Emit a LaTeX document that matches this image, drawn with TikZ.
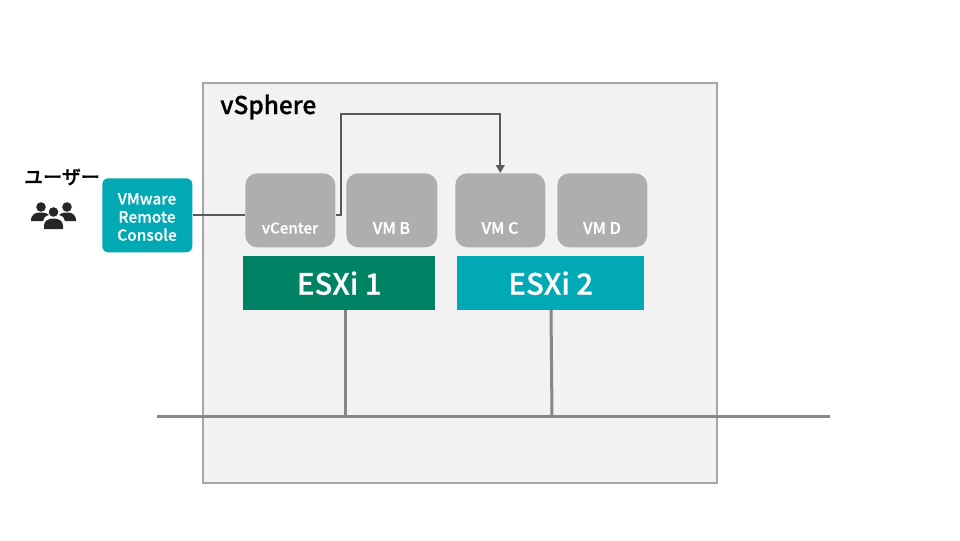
\documentclass[tikz,border=0pt]{standalone}
\usepackage{fontspec}
\setmainfont{Noto Sans CJK JP}[BoldFont={Noto Sans CJK JP Medium},BoldFeatures={FakeBold=0.6}]
\usetikzlibrary{arrows.meta}
\definecolor{panel}{HTML}{F2F2F2}
\definecolor{panelline}{HTML}{A6A6A6}
\definecolor{teal}{HTML}{00A9B3}
\definecolor{esxgreen}{HTML}{008265}
\definecolor{vmgray}{HTML}{AEAEAE}
\definecolor{wire}{HTML}{595959}
\definecolor{net}{HTML}{878787}
\definecolor{ink}{HTML}{262626}
\tikzset{
  x=0.75pt,y=-0.75pt,
  vmbox/.style={fill=vmgray,draw=none,rounded corners=9pt,minimum width=67.5pt,minimum height=55.5pt,inner sep=0pt,anchor=north west},
  vmtext/.style={text=white,font=\fontsize{12.1pt}{14pt}\selectfont\bfseries,inner sep=0pt},
  esxbox/.style={draw=none,minimum height=40.5pt,inner sep=0pt,anchor=north west,text=white,font=\fontsize{22pt}{24pt}\selectfont\bfseries},
  wireline/.style={draw=wire,line width=1.5pt},
  netline/.style={draw=net,line width=2.25pt},
}
\begin{document}
\begin{tikzpicture}
\useasboundingbox (0,0) rectangle (960,540);
\fill[white] (0,0) rectangle (960,540);
\node[draw=panelline,fill=panel,line width=1.5pt,minimum width=385.5pt,minimum height=300pt,inner sep=0pt,anchor=north west] (vsphere) at (202,82) {};
\node[anchor=west,inner sep=0pt,font=\fontsize{18.3pt}{20pt}\selectfont\bfseries] (vsphereT) at (220,107) {vSphere};

\coordinate (netL) at (157,416);
\coordinate (netR) at (830,416);
\coordinate (net1) at (345,416);
\coordinate (net2) at (552,416);

\node[vmbox] (vcenter) at (245,173) {};
\node[vmbox,minimum width=68.25pt] (vmb) at (346,173) {};
\node[vmbox] (vmc) at (455,173) {};
\node[vmbox] (vmd) at (557,173) {};
\node[vmtext,font=\fontsize{11.3pt}{13pt}\selectfont\bfseries] (vcenterT) at (290,228) {vCenter};
\node[vmtext] (vmbT) at (391.5,228) {VM B};
\node[vmtext] (vmcT) at (500,228) {VM C};
\node[vmtext] (vmdT) at (602,228) {VM D};

\node[esxbox,fill=esxgreen,minimum width=144pt] (esx1) at (243,256) {ESXi 1};
\node[esxbox,fill=teal,minimum width=140.25pt] (esx2) at (457,256) {ESXi 2};

\node[fill=teal,rounded corners=4.5pt,minimum width=67.5pt,minimum height=55.5pt,inner sep=0pt,anchor=north west] (console) at (102,178) {};
\node[inner sep=0pt,text=white,align=center,font=\fontsize{11.6pt}{13.6pt}\selectfont\bfseries] (consoleT) at (147,217) {VMware\\Remote\\Console};

\node[inner sep=0pt,font=\fontsize{14.3pt}{16pt}\selectfont\bfseries] (user) at (62,177) {ユーザー};

% connectors
\draw[wireline] (console.east |- 0,215) -- (vcenter.west |- 0,215);
\draw[wireline,-{Triangle[length=6pt,width=6.5pt]}] (vcenter.east |- 0,215) -- (341,215) -- (341,114) -- (vmc.north |- 0,114) -- (vmc.north);
\draw[netline] (netL) -- (netR);
\draw[netline] (345,310) -- (net1);
\draw[netline] (551,310) -- (net2);

% people icon
\begin{scope}[fill=ink]
\fill (41,207) circle[radius=4.8];
\fill (67,207) circle[radius=4.8];
\fill (31,221) .. controls (31,213.5) and (36,212.5) .. (41,212.5) .. controls (45,212.5) and (48,213.5) .. (49,215) .. controls (45,216) and (43.5,218) .. (43,221) -- cycle;
\fill (76,221) .. controls (76,213.5) and (71,212.5) .. (67,212.5) .. controls (63,212.5) and (60,213.5) .. (59,215) .. controls (63,216) and (64.5,218) .. (65,221) -- cycle;
\fill (53.5,212) circle[radius=4.8];
\fill (44,229) -- (44,225.5) .. controls (44,220.5) and (49,218.5) .. (53.5,218.5) .. controls (58,218.5) and (63,220.5) .. (63,225.5) -- (63,229) -- cycle;
\end{scope}
\end{tikzpicture}
\end{document}
